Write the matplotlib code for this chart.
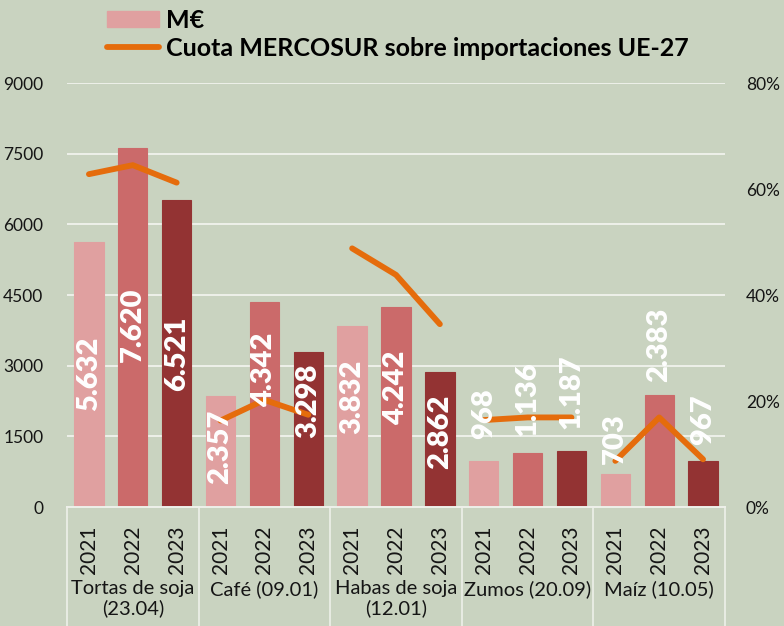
import matplotlib.pyplot as plt
import matplotlib.transforms as mtransforms
from matplotlib.patches import Patch
from matplotlib.lines import Line2D

plt.rcParams['font.family'] = ['Lato', 'DejaVu Sans']

# datos
grupos = ['Tortas de soja\n(23.04)', 'Café (09.01)', 'Habas de soja\n(12.01)',
          'Zumos (20.09)', 'Maíz (10.05)']
anios = ['2021', '2022', '2023']
valores = [5632, 7620, 6521,
           2357, 4342, 3298,
           3832, 4242, 2862,
           968, 1136, 1187,
           703, 2383, 967]
etiquetas = ['5.632', '7.620', '6.521',
             '2.357', '4.342', '3.298',
             '3.832', '4.242', '2.862',
             '968', '1.136', '1.187',
             '703', '2.383', '967']
cuota = [62.8, 64.5, 61.2,
         16.3, 20.2, 17.4,
         48.8, 43.8, 34.5,
         16.4, 16.9, 16.9,
         8.7, 16.9, 9.0]

# posicion (centro) de cada etiqueta, en M€
etiq_y = [2834, 3863, 3260,
          1274, 2910, 2250,
          2330, 2537, 1592,
          1974, 2293, 2441,
          1443, 3440, 1847]

fondo = '#c9d3c0'
colores = ['#e0a0a0', '#cb6a6a', '#933333']
naranja = '#e56c0c'
texto = '#151515'

fig = plt.figure(figsize=(7.84, 6.26), dpi=100, facecolor=fondo)
ax = fig.add_axes([67/784, 1 - 507/626, 658/784, 424/626])
ax.set_facecolor(fondo)
ax2 = ax.twinx()

n = len(valores)
x = list(range(n))
cols = [colores[i % 3] for i in x]

ax.bar(x, valores, width=0.67, color=cols, edgecolor=cols, linewidth=0.8, zorder=2)
ax.set_xlim(-0.5, n - 0.5)
ax.set_ylim(0, 9000)
ax.set_yticks(range(0, 9001, 1500))
ax.grid(axis='y', color='#eef0ea', linewidth=1.4, zorder=0)
ax.set_axisbelow(True)

for s in ['top', 'left', 'right']:
    ax.spines[s].set_visible(False)
    ax2.spines[s].set_visible(False)
ax2.spines['bottom'].set_visible(False)
ax.spines['bottom'].set_color('#eef0ea')
ax.spines['bottom'].set_linewidth(1.4)

ax.tick_params(axis='y', length=0, pad=17, labelsize=12.5, labelcolor=texto)
ax.set_xticks(x)
ax.set_xticklabels(anios * len(grupos), rotation=90, fontsize=15, color=texto)
ax.tick_params(axis='x', length=0, pad=13)

# cuota MERCOSUR
ax2.set_ylim(0, 80)
ax2.set_yticks(range(0, 81, 20))
ax2.set_yticklabels([f'{v}%' for v in range(0, 81, 20)])
ax2.tick_params(axis='y', length=0, pad=15, labelsize=12.5, labelcolor=texto)
for g in range(len(grupos)):
    xs = x[g * 3:g * 3 + 3]
    ax2.plot(xs, cuota[g * 3:g * 3 + 3], color=naranja, linewidth=4.2,
             solid_capstyle='round', solid_joinstyle='round', zorder=3)

# etiquetas de valores
for xi, lab, yy in zip(x, etiquetas, etiq_y):
    ax2.text(xi, yy, lab, transform=ax.transData, rotation=90, ha='center',
             va='center', color='white', fontsize=21, fontweight='heavy', zorder=5)

# separadores y nombres de grupo
trans = mtransforms.blended_transform_factory(ax.transData, ax.transAxes)
for b in range(len(grupos) + 1):
    xb = b * 3 - 0.5
    ax.plot([xb, xb], [0, -119/424], transform=trans, color='#eef0ea',
            linewidth=1.2, clip_on=False)
for g, nombre in enumerate(grupos):
    ax.text(g * 3 + 1, -73/424, nombre, transform=trans, ha='center', va='top',
            fontsize=14.5, color=texto, linespacing=1.15)

handles = [Patch(facecolor=colores[0], edgecolor=colores[0]),
           Line2D([0], [0], color=naranja, linewidth=4.2, solid_capstyle='round')]
fig.legend(handles, ['M€', 'Cuota MERCOSUR sobre importaciones UE-27'],
           loc='upper left', bbox_to_anchor=(84/784, 1.022), frameon=False,
           handlelength=2.1, handleheight=0.6, handletextpad=0.3,
           labelspacing=0.2, prop={'weight': 'bold', 'size': 18})

fig.savefig('out.png', dpi=100, facecolor=fondo)
